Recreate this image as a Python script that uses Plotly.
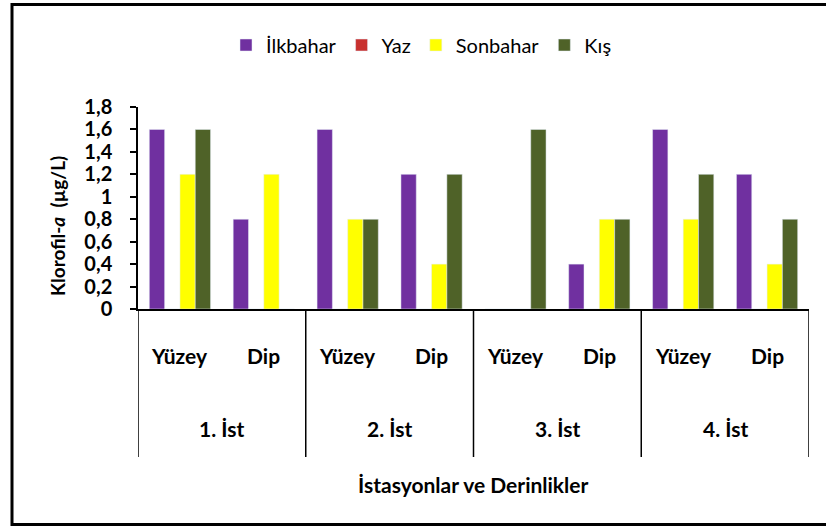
import plotly.graph_objects as go

# data
stations = ["1. İst", "2. İst", "3. İst", "4. İst"]
depths = ["Yüzey", "Dip"]
seasons = ["İlkbahar", "Yaz", "Sonbahar", "Kış"]
colors = ["#7030A0", "#C8312F", "#FFFF00", "#4F6228"]

ilkbahar = [1.6, 0.8, 1.6, 1.2, 0.0, 0.4, 1.6, 1.2]
yaz = [0, 0, 0, 0, 0, 0, 0, 0]
sonbahar = [1.2, 1.2, 0.8, 0.4, 0.0, 0.8, 0.8, 0.4]
kis = [1.6, 0.0, 0.8, 1.2, 1.6, 0.8, 1.2, 0.8]

series = [ilkbahar, yaz, sonbahar, kis]
cats = [f"{s} {d}" for s in stations for d in depths]

W, H = 826, 527
L, R, T, B = 138, 17, 107, 218
pw, ph = W - L - R, H - T - B


def px(x):
    return (x - L) / pw


def py(y):
    return (H - B - y) / ph


fig = go.Figure()
for name, vals, col in zip(seasons, series, colors):
    fig.add_trace(go.Bar(x=cats, y=vals, name=name, marker_color=col))

font = "Lato"
txt = dict(family=font, size=21, color="black")

# depth labels and station labels below the axis
ann = []
for i, c in enumerate(cats):
    ann.append(dict(x=c, y=py(355), xref="x", yref="paper", text=f"<b>{depths[i % 2]}</b>",
                    xanchor="center", yanchor="middle", showarrow=False, font=txt))
for g, s in enumerate(stations):
    ann.append(dict(x=2 * g + 0.5, y=py(428), xref="x", yref="paper", text=f"<b>{s}</b>",
                    xanchor="center", yanchor="middle", showarrow=False, font=txt))
ann.append(dict(x=px(473), y=py(484), xref="paper", yref="paper",
                text="<b>İstasyonlar ve Derinlikler</b>", showarrow=False,
                xanchor="center", yanchor="middle", font=txt))
ann.append(dict(x=px(57), y=py(226), xref="paper", yref="paper", textangle=-90,
                text="<b>Klorofil-<i>a</i>  (µg/L)</b>", showarrow=False,
                xanchor="center", yanchor="middle",
                font=dict(family=font, size=19, color="black")))

shapes = []
for xd in [-0.5, 1.5, 3.5, 5.5, 7.5]:
    shapes.append(dict(type="line", xref="x", yref="paper", x0=xd, x1=xd, y0=0, y1=py(457),
                       line=dict(color="black", width=1.5)))
# outer frame
shapes.append(dict(type="rect", xref="paper", yref="paper", x0=px(12), x1=px(832),
                   y0=py(524.5), y1=py(4.5), line=dict(color="black", width=3)))

fig.update_layout(
    width=W, height=H,
    margin=dict(l=L, r=R, t=T, b=B),
    paper_bgcolor="white", plot_bgcolor="white",
    separators=",.",
    barmode="group", bargap=0.27, bargroupgap=0,
    showlegend=True,
    legend=dict(orientation="h", x=px(226), xanchor="left", y=py(45), yanchor="middle",
                font=dict(family=font, size=20, color="black"), itemwidth=30),
    annotations=ann,
    shapes=shapes,
)
fig.update_xaxes(type="category", range=[-0.5, 7.5], showticklabels=False, ticks="",
                 showline=True, linecolor="black", linewidth=1.5, showgrid=False, zeroline=False)
fig.update_yaxes(range=[0, 1.8], dtick=0.2, tick0=0, ticks="outside", ticklen=6, tickcolor="black",
                 tickwidth=1.5, showline=True, linecolor="black", linewidth=1.5, showgrid=False,
                 zeroline=False, ticklabelstandoff=14,
                 tickfont=dict(family=font, size=20, color="black", weight="bold"))

# page body has a default 8px margin; drop it so the figure sits at the window corner
fig.write_html("out.html", config={"displayModeBar": False},
               post_script="document.body.style.margin='0';")
